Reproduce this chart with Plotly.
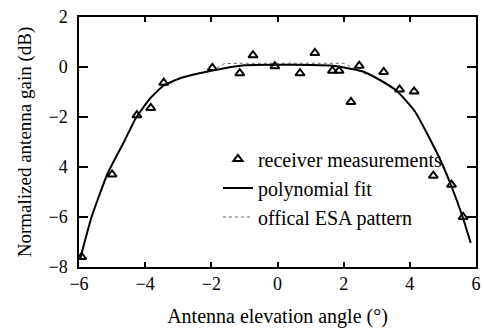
import plotly.graph_objects as go

# Receiver measurements
meas_x = [-5.92, -5.0, -4.25, -3.83, -3.44, -1.97, -1.14, -0.74, -0.08, 0.68, 1.13,
          1.66, 1.86, 2.22, 2.47, 3.21, 3.69, 4.13, 4.71, 5.26, 5.61]
meas_y = [-7.6, -4.3, -1.93, -1.64, -0.63, -0.04, -0.25, 0.47, 0.03, -0.25, 0.56,
          -0.15, -0.15, -1.4, 0.05, -0.2, -0.9, -0.98, -4.35, -4.71, -6.0]

# Polynomial fit
fit_x = [-5.97, -5.62, -5.13, -4.63, -4.28, -3.84, -3.44, -3.15, -2.9, -2.0, -1.0, 0.0,
         1.0, 1.67, 2.56, 3.0, 3.6, 4.15, 4.54, 4.94, 5.24, 5.59, 5.84]
fit_y = [-7.7, -6.0, -4.24, -2.97, -2.04, -1.24, -0.74, -0.56, -0.43, -0.15, 0.07, 0.09,
         0.08, 0.05, -0.17, -0.45, -0.95, -1.77, -2.71, -3.77, -4.71, -5.97, -7.04]

# Official ESA pattern
esa_x = [-5.97, -5.62, -5.13, -4.63, -4.28, -3.84, -3.44, -3.15, -2.9, -2.0, -1.6, -1.0, 0.0,
         1.0, 2.0, 2.6, 3.0, 3.6, 4.15, 4.54, 4.94, 5.24, 5.59, 5.84]
esa_y = [-7.7, -6.0, -4.24, -2.97, -2.04, -1.24, -0.74, -0.56, -0.43, -0.15, 0.14, 0.15, 0.15,
         0.15, 0.15, -0.25, -0.45, -0.95, -1.77, -2.71, -3.77, -4.71, -5.97, -7.04]

x_ticks = [-6, -4, -2, 0, 2, 4, 6]
x_tick_text = ["\u22126", "\u22124", "\u22122", "0", "2", "4", "6"]
y_ticks = [2, 0, -2, -4, -6, -8]
y_tick_text = ["2", "0", "\u22122", "4", "\u22126", "\u22128"]

FONT = "Liberation Serif"

fig = go.Figure()
fig.add_trace(go.Scatter(
    x=meas_x, y=meas_y, mode="markers", name="receiver measurements", legendrank=1,
    marker=dict(symbol="triangle-up-open", size=8, color="black", line=dict(width=2, color="black")),
))
fig.add_trace(go.Scatter(
    x=esa_x, y=esa_y, mode="lines", name="offical ESA pattern", legendrank=3,
    line=dict(color="#666666", width=1, dash="dot", shape="linear"),
))
fig.add_trace(go.Scatter(
    x=fit_x, y=fit_y, mode="lines", name="polynomial fit", legendrank=2,
    line=dict(color="black", width=2, shape="spline", smoothing=0.5),
))

axis_common = dict(
    showline=True, linecolor="black", linewidth=1.5, mirror="ticks",
    ticks="inside", tickcolor="black", tickwidth=1.5,
    showgrid=False, zeroline=False,
    tickfont=dict(family=FONT, size=18, color="black"),
)

fig.update_layout(
    width=484, height=334,
    margin=dict(l=79, r=3, t=17, b=67),
    paper_bgcolor="white", plot_bgcolor="white",
    font=dict(family=FONT, size=20, color="black"),
    showlegend=True,
    legend=dict(
        x=0.35, y=0.51, xanchor="left", yanchor="top",
        bgcolor="rgba(0,0,0,0)", borderwidth=0,
        font=dict(family=FONT, size=20, color="black"),
        tracegroupgap=0, itemwidth=30,
    ),
    xaxis=dict(
        range=[-6, 6], tickvals=x_ticks, ticktext=x_tick_text, ticklen=5,
        title=dict(text="Antenna elevation angle (\u00b0)", font=dict(family=FONT, size=20), standoff=16),
        **axis_common,
    ),
    yaxis=dict(
        range=[-8, 2], tickvals=y_ticks, ticktext=y_tick_text, ticklen=9,
        ticklabelstandoff=6,
        title=dict(text="Normalized antenna gain (dB)", font=dict(family=FONT, size=19), standoff=12),
        **axis_common,
    ),
)

fig.write_html("out.html")
